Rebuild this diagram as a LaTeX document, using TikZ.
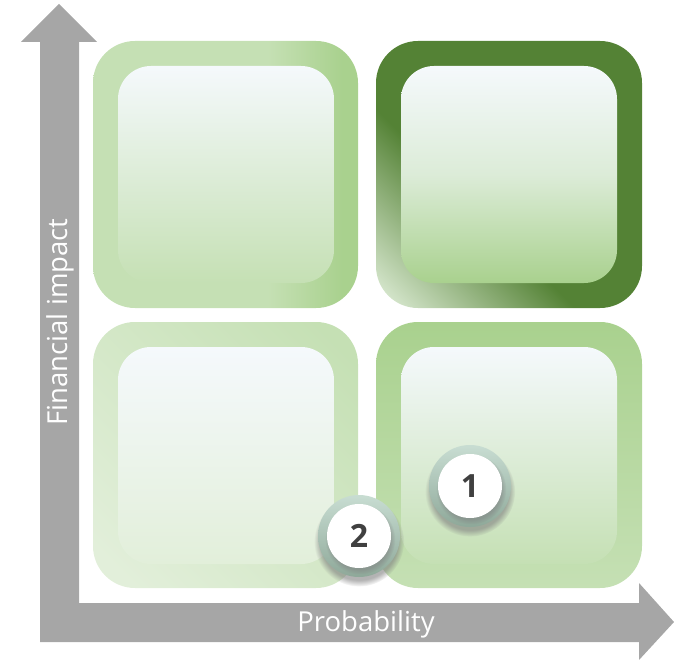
\documentclass[tikz,border=0pt]{standalone}
\usepackage{fontspec}
\setmainfont{Open Sans}
\usetikzlibrary{shadows}
\definecolor{axisgray}{HTML}{A6A6A6}
\definecolor{frame}{HTML}{C5E0B4}
\definecolor{midg}{HTML}{A9D18E}
\definecolor{darkg}{HTML}{548235}
\definecolor{innertop}{HTML}{F5F9FC}
\definecolor{palegreen}{HTML}{E2EFDA}
\definecolor{frlight}{HTML}{DCEBD4}
\definecolor{ringtop}{HTML}{C8DDD2}
\definecolor{ringbot}{HTML}{8EA899}
\definecolor{numgray}{HTML}{404040}
\pgfdeclarehorizontalshading{tlframe}{100bp}{color(0bp)=(frame); color(58bp)=(frame); color(72bp)=(midg); color(100bp)=(midg)}
\pgfdeclareverticalshading{trframe}{100bp}{color(0bp)=(frlight); color(16bp)=(frlight); color(41bp)=(darkg); color(100bp)=(darkg)}
\pgfdeclareverticalshading{blframe}{100bp}{color(0bp)=(palegreen); color(20bp)=(palegreen); color(80bp)=(frame); color(100bp)=(frame)}
\begin{document}
\begin{tikzpicture}[x=1pt,y=-1pt,
  outerbox/.style={rounded corners=42pt},
  innerbox/.style={rounded corners=33pt},
  axislabel/.style={text=white, font=\fontsize{27.5}{27.5}\selectfont, inner sep=0pt, anchor=base},
  ring/.style={circle, minimum size=82pt, inner sep=0pt, top color=ringtop, bottom color=ringbot,
    circular drop shadow={shadow xshift=0pt, shadow yshift=-5pt, opacity=.6}},
  badge/.style={circle, minimum size=64pt, inner sep=0pt, fill=white, text=numgray,
    font=\bfseries\fontsize{32}{32}\selectfont,
    circular drop shadow={shadow xshift=1pt, shadow yshift=-3pt, opacity=.5}}]
\useasboundingbox (0,0) rectangle (674,660);
% axes
\fill[axisgray] (40,642) -- (40,42) -- (21,42) -- (59,4) -- (97,42) -- (79,42) -- (79,603)
  -- (639,603) -- (639,583) -- (674,622) -- (639,660) -- (639,642) -- cycle;
\node[axislabel, rotate=90] (ylab) at (67.5,322) {Financial impact};
\node[axislabel] (xlab) at (366,631) {Probability};
% top-left
\shade[outerbox, shading=tlframe] (93,41) rectangle (358,308);
\shade[innerbox, top color=innertop, bottom color=frame] (118,66) rectangle (334,283);
% top-right
\shade[outerbox, shading=trframe, shading angle=-45] (376,41) rectangle (642,308);
\shade[innerbox, top color=innertop, bottom color=midg, middle color=innertop!67!midg] (401,66) rectangle (617,283);
% bottom-left
\shade[outerbox, shading=blframe, shading angle=-45] (93,322) rectangle (358,588);
\shade[innerbox, top color=innertop, bottom color=palegreen] (118,347) rectangle (334,564);
% bottom-right
\shade[outerbox, top color=midg, bottom color=frame] (376,322) rectangle (642,588);
\shade[innerbox, top color=innertop, bottom color=frame] (401,347) rectangle (617,564);
% badges
\node[ring] (r1) at (470,486) {};
\node[badge] (n1) at (470,486) {1};
\node[ring] (r2) at (359,536) {};
\node[badge] (n2) at (359,536) {2};
\end{tikzpicture}
\end{document}
